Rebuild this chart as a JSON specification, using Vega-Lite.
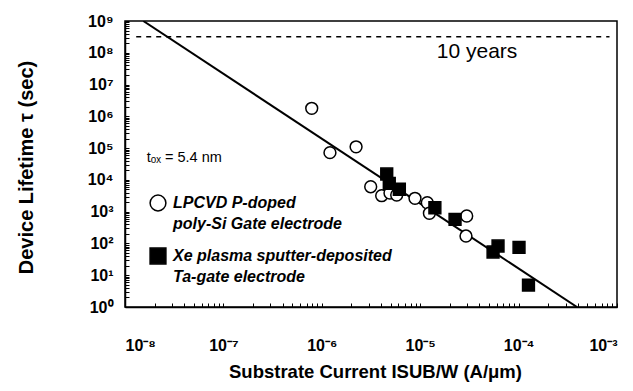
{
  "$schema": "https://vega.github.io/schema/vega-lite/v6.json",
  "width": 492,
  "height": 286,
  "autosize": {"type": "none"},
  "padding": {"left": 125, "top": 21, "right": 16, "bottom": 84},
  "background": "white",
  "config": {
    "view": {"stroke": "black", "strokeWidth": 1.5},
    "style": {"guide-label": {"lineHeight": 21}},
    "axis": {"grid": false, "domainColor": "black", "domainWidth": 1.5, "tickColor": "black", "tickWidth": 1, "labelColor": "black", "titleColor": "black", "labelFont": "Liberation Sans", "titleFont": "Liberation Sans", "labelFontWeight": "bold", "titleFontWeight": "bold", "labelFontSize": 16, "titleFontSize": 18, "labelOverlap": false},
    "legend": {"title": null, "orient": "none", "legendX": 24, "legendY": 173, "labelFont": "Liberation Sans", "labelFontSize": 16, "labelFontWeight": "bold", "labelFontStyle": "italic", "labelColor": "black", "symbolSize": 250, "symbolStrokeWidth": 1.5, "labelOffset": 6, "rowPadding": 13, "labelLimit": 400, "padding": 0}
  },
  "datasets": {
    "points": [
      {"x": 7.9e-7, "y": 1.79e6, "series": "LPCVD P-doped|poly-Si Gate electrode"},
      {"x": 1.21e-6, "y": 7.2e4, "series": "LPCVD P-doped|poly-Si Gate electrode"},
      {"x": 2.23e-6, "y": 1.1e5, "series": "LPCVD P-doped|poly-Si Gate electrode"},
      {"x": 3.14e-6, "y": 6.1e3, "series": "LPCVD P-doped|poly-Si Gate electrode"},
      {"x": 4.06e-6, "y": 3.18e3, "series": "LPCVD P-doped|poly-Si Gate electrode"},
      {"x": 4.93e-6, "y": 3.87e3, "series": "LPCVD P-doped|poly-Si Gate electrode"},
      {"x": 5.77e-6, "y": 3.34e3, "series": "LPCVD P-doped|poly-Si Gate electrode"},
      {"x": 8.85e-6, "y": 2.63e3, "series": "LPCVD P-doped|poly-Si Gate electrode"},
      {"x": 1.18e-5, "y": 1.91e3, "series": "LPCVD P-doped|poly-Si Gate electrode"},
      {"x": 1.24e-5, "y": 8.9e2, "series": "LPCVD P-doped|poly-Si Gate electrode"},
      {"x": 2.97e-5, "y": 7.3e2, "series": "LPCVD P-doped|poly-Si Gate electrode"},
      {"x": 2.92e-5, "y": 1.71e2, "series": "LPCVD P-doped|poly-Si Gate electrode"},
      {"x": 4.57e-6, "y": 1.53e4, "series": "Xe plasma sputter-deposited|Ta-gate electrode"},
      {"x": 4.85e-6, "y": 7.8e3, "series": "Xe plasma sputter-deposited|Ta-gate electrode"},
      {"x": 6.14e-6, "y": 5.06e3, "series": "Xe plasma sputter-deposited|Ta-gate electrode"},
      {"x": 1.41e-5, "y": 1.33e3, "series": "Xe plasma sputter-deposited|Ta-gate electrode"},
      {"x": 2.26e-5, "y": 5.75e2, "series": "Xe plasma sputter-deposited|Ta-gate electrode"},
      {"x": 5.5e-5, "y": 53.8, "series": "Xe plasma sputter-deposited|Ta-gate electrode"},
      {"x": 6.18e-5, "y": 83, "series": "Xe plasma sputter-deposited|Ta-gate electrode"},
      {"x": 1.01e-4, "y": 75.6, "series": "Xe plasma sputter-deposited|Ta-gate electrode"},
      {"x": 1.26e-4, "y": 4.9, "series": "Xe plasma sputter-deposited|Ta-gate electrode"}
    ],
    "fit": [
      {"x": 1.535e-8, "y": 1e9},
      {"x": 3.92e-4, "y": 1}
    ],
    "tenyears": [
      {"x": 1.3e-8, "x2": 8.39e-4, "y": 3.2e8}
    ],
    "label10": [
      {"x": 3.78e-5, "y": 6.84e7, "text": "10 years"}
    ],
    "labeltox": [
      {"x": 1.66e-8, "y": 3.65e4, "text": "tₒₓ = 5.4 nm"}
    ]
  },
  "encoding": {
    "x": {
      "field": "x", "type": "quantitative",
      "scale": {"type": "log", "domain": [1e-8, 1e-3]},
      "axis": {
        "title": "Substrate Current ISUB/W (A/μm)",
        "values": [1e-8, 2e-8, 3e-8, 4e-8, 5e-8, 6e-8, 7e-8, 8e-8, 9e-8, 1e-7, 2e-7, 3e-7, 4e-7, 5e-7, 6e-7, 7e-7, 8e-7, 9e-7, 1e-6, 2e-6, 3e-6, 4e-6, 5e-6, 6e-6, 7e-6, 8e-6, 9e-6, 1e-5, 2e-5, 3e-5, 4e-5, 5e-5, 6e-5, 7e-5, 8e-5, 9e-5, 1e-4, 2e-4, 3e-4, 4e-4, 5e-4, 6e-4, 7e-4, 8e-4, 9e-4, 1e-3],
        "labelExpr": "abs(log(datum.value)/LN10 - round(log(datum.value)/LN10)) < 0.01 ? '10' + (datum.value < 1 ? '⁻' : '') + ['⁰','¹','²','³','⁴','⁵','⁶','⁷','⁸','⁹'][abs(round(log(datum.value)/LN10))] : ''",
        "tickSize": -4,
        "labelPadding": 47,
        "labelBaseline": "alphabetic",
        "labelFlush": true,
        "titleX": 250,
        "titleY": 70,
        "titleFontSize": 18.5,
        "titleBaseline": "alphabetic"
      }
    },
    "y": {
      "field": "y", "type": "quantitative",
      "scale": {"type": "log", "domain": [1, 1e9]},
      "axis": {
        "title": "Device Lifetime   τ   (sec)",
        "values": [1, 2, 3, 4, 5, 6, 7, 8, 9, 10, 20, 30, 40, 50, 60, 70, 80, 90, 100, 200, 300, 400, 500, 600, 700, 800, 900, 1000, 2000, 3000, 4000, 5000, 6000, 7000, 8000, 9000, 1e4, 2e4, 3e4, 4e4, 5e4, 6e4, 7e4, 8e4, 9e4, 1e5, 2e5, 3e5, 4e5, 5e5, 6e5, 7e5, 8e5, 9e5, 1e6, 2e6, 3e6, 4e6, 5e6, 6e6, 7e6, 8e6, 9e6, 1e7, 2e7, 3e7, 4e7, 5e7, 6e7, 7e7, 8e7, 9e7, 1e8, 2e8, 3e8, 4e8, 5e8, 6e8, 7e8, 8e8, 9e8, 1e9],
        "labelExpr": "abs(log(datum.value)/LN10 - round(log(datum.value)/LN10)) < 0.01 ? '10' + (datum.value < 1 ? '⁻' : '') + ['⁰','¹','²','³','⁴','⁵','⁶','⁷','⁸','⁹'][abs(round(log(datum.value)/LN10))] : ''",
        "tickSize": -4,
        "labelPadding": 16,
        "labelFlush": false,
        "titleX": -93,
        "titleY": 146,
        "titleFontSize": 20,
        "titleBaseline": "alphabetic"
      }
    }
  },
  "layer": [
    {
      "data": {"name": "fit"},
      "mark": {"type": "line", "color": "black", "strokeWidth": 2, "clip": true}
    },
    {
      "data": {"name": "tenyears"},
      "mark": {"type": "rule", "color": "black", "strokeWidth": 1.3, "strokeDash": [5, 5]},
      "encoding": {"x2": {"field": "x2"}}
    },
    {
      "data": {"name": "points"},
      "mark": {"type": "point", "filled": false, "strokeWidth": 1.5, "size": 140, "opacity": 1, "fillOpacity": 1},
      "encoding": {
        "shape": {
          "field": "series", "type": "nominal",
          "scale": {"domain": ["LPCVD P-doped|poly-Si Gate electrode", "Xe plasma sputter-deposited|Ta-gate electrode"], "range": ["circle", "square"]},
          "legend": {"labelExpr": "split(datum.label, '|')"}
        },
        "fill": {
          "field": "series", "type": "nominal",
          "scale": {"domain": ["LPCVD P-doped|poly-Si Gate electrode", "Xe plasma sputter-deposited|Ta-gate electrode"], "range": ["white", "black"]},
          "legend": {"labelExpr": "split(datum.label, '|')"}
        },
        "stroke": {
          "field": "series", "type": "nominal",
          "scale": {"domain": ["LPCVD P-doped|poly-Si Gate electrode", "Xe plasma sputter-deposited|Ta-gate electrode"], "range": ["black", "black"]},
          "legend": {"labelExpr": "split(datum.label, '|')"}
        }
      }
    },
    {
      "data": {"name": "label10"},
      "mark": {"type": "text", "font": "Liberation Sans", "fontSize": 21, "align": "center", "baseline": "alphabetic", "color": "black"},
      "encoding": {"text": {"field": "text"}}
    },
    {
      "data": {"name": "labeltox"},
      "mark": {"type": "text", "font": "Liberation Sans", "fontSize": 14.5, "align": "left", "baseline": "alphabetic", "color": "black"},
      "encoding": {"text": {"field": "text"}}
    }
  ]
}
